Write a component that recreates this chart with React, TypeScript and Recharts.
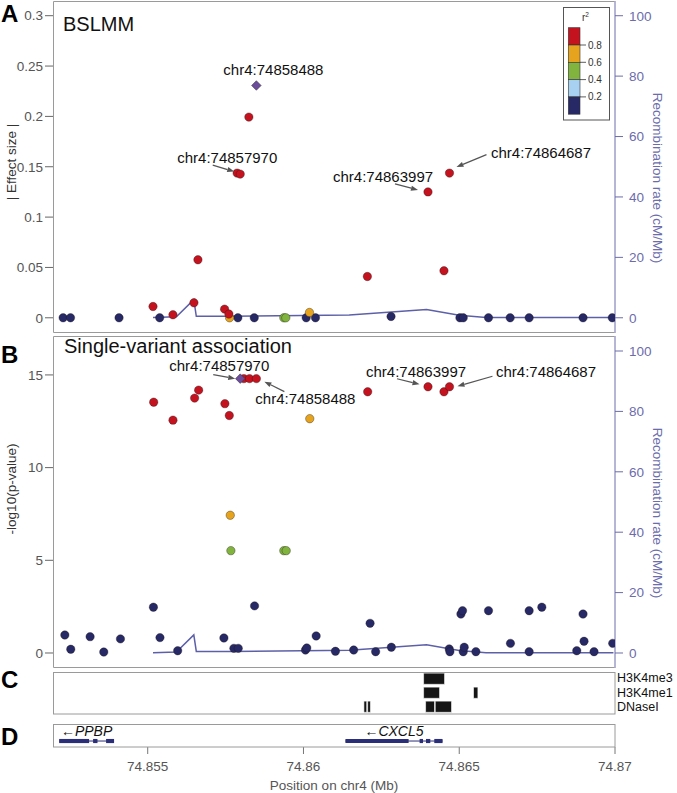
import React from "react";
import {
  ComposedChart,
  Line,
  ReferenceArea,
  ReferenceLine,
  Scatter,
  XAxis,
  YAxis,
} from "recharts";

const FONT = "'Liberation Sans', Arial, Helvetica, sans-serif";
const W = 677;
const H = 793;

// shared x range (Mb)
const X_DOMAIN: [number, number] = [74.85196, 74.87];
const X_TICKS = [74.855, 74.86, 74.865, 74.87];

const EFFECT_TICKS = [0, 0.05, 0.1, 0.15, 0.2, 0.25, 0.3];
const LOGP_TICKS = [0, 5, 10, 15];
const RECOMB_TICKS = [0, 20, 40, 60, 80, 100];
const LD_BREAKS = [0.8, 0.6, 0.4, 0.2];
const TRACKS = ["H3K4me3", "H3K4me1", "DNaseI"];

const COLORS = {
  red: "#c4121f",
  orange: "#e5a31e",
  green: "#80b43f",
  light: "#a8d0f0",
  navy: "#262965",
  lead: "#6b4d9b",
};
const LD_ORDER = [COLORS.red, COLORS.orange, COLORS.green, COLORS.light, COLORS.navy];
const RECOMB_COLOR = "#5d60a8";
const RECOMB_TEXT = "#6c6cab";
const GENE_COLOR = "#2b2e78";

// recombination rate (cM/Mb), same map for both panels
const RECOMB_POS = [74.85517, 74.85592, 74.85648, 74.85656, 74.85763, 74.86147, 74.86395, 74.865, 74.86586, 74.86995];
const RECOMB_RATE = [0.1, 0.3, 6, 0.5, 0.5, 0.9, 2.7, 0.8, 0.1, 0.1];

// panel A: BSLMM effect sizes, by r2 class
const A_RED = [
  [74.85517, 0.0112],
  [74.85581, 0.003],
  [74.856484, 0.0149],
  [74.856612, 0.0576],
  [74.857468, 0.0086],
  [74.857606, 0.0037],
  [74.85787, 0.1437],
  [74.85797, 0.1427],
  [74.858247, 0.1993],
  [74.862051, 0.041],
  [74.863997, 0.125],
  [74.86451, 0.0467],
  [74.864687, 0.1437],
];
const A_ORANGE = [
  [74.857628, 0],
  [74.860192, 0.0053],
];
const A_GREEN = [
  [74.859369, 0],
  [74.859433, 0],
];
const A_NAVY = [
  [74.852285, 0], [74.852522, 0], [74.85408, 0], [74.855385, 0], [74.857894, 0],
  [74.85842, 0], [74.860087, 0], [74.860385, 0], [74.862811, 0.0013], [74.865022, 0],
  [74.865128, 0], [74.865939, 0], [74.866635, 0], [74.867244, 0], [74.868974, 0], [74.869913, 0],
];
const A_LEAD = [[74.858488, 0.2307]];

// panel B: single-variant -log10(p)
const B_RED = [
  [74.855192, 13.53],
  [74.855811, 12.56],
  [74.856506, 13.75],
  [74.856635, 14.18],
  [74.857478, 13.45],
  [74.857619, 12.81],
  [74.858087, 14.8],
  [74.858269, 14.8],
  [74.858488, 14.8],
  [74.862061, 14.09],
  [74.863997, 14.36],
  [74.86451, 14.09],
  [74.864687, 14.36],
];
const B_ORANGE = [
  [74.85765, 7.43],
  [74.860202, 12.64],
];
const B_GREEN = [
  [74.85767, 5.52],
  [74.859369, 5.52],
  [74.859446, 5.52],
];
const B_NAVY = [
  [74.85234, 0.97], [74.85253, 0.2], [74.853151, 0.88], [74.85359, 0.05], [74.854125, 0.76],
  [74.855183, 2.47], [74.855394, 0.83], [74.855962, 0.12], [74.857446, 0.81], [74.857766, 0.25],
  [74.857907, 0.25], [74.85843, 2.54], [74.860064, 0.16], [74.860106, 0.27], [74.860407, 0.92],
  [74.861026, 0.09], [74.861612, 0.16], [74.862138, 1.6], [74.862317, 0.07], [74.862821, 0.31],
  [74.864679, 0.22], [74.8647, 0.07], [74.865054, 2.1], [74.865106, 2.28], [74.865128, 0.07],
  [74.86516, 0.31], [74.865535, 0.07], [74.865939, 2.28], [74.866644, 0.52], [74.867244, 2.28],
  [74.867244, 0.07], [74.867651, 2.47], [74.868772, 0.12], [74.868974, 2.1], [74.869006, 0.63],
  [74.869327, 0.07], [74.869926, 0.52],
];
const B_LEAD = [[74.85797, 14.8]];

// panel C: chromatin marks [start, end] per track
const H3K4ME3 = [[74.863856, 74.864529]];
const H3K4ME1 = [
  [74.863856, 74.864369],
  [74.865458, 74.865599],
];
const DNASE = [
  [74.86194, 74.86203],
  [74.86206, 74.86215],
  [74.86392, 74.864208],
  [74.86423, 74.864753],
];

// panel D: genes
const GENE_NAMES = ["PPBP", "CXCL5"];
const GENE_SPANS = [
  [74.852157, 74.85392],
  [74.861347, 74.864465],
];
const GENE_EXONS = [
  [
    [74.852157, 74.853119],
    [74.853247, 74.853388],
    [74.853664, 74.85392],
  ],
  [
    [74.861347, 74.863375],
    [74.863728, 74.863837],
    [74.863933, 74.864071],
    [74.864199, 74.864465],
  ],
];

const toPts = (rows: number[][]) => rows.map(([pos, val]) => ({ pos, val }));
const RECOMB = RECOMB_POS.map((pos, i) => ({ pos, rate: RECOMB_RATE[i] }));

// label callouts: offsets in px from the marked SNP
const A_CALLOUTS = [
  { pos: 74.858488, val: 0.2307, text: "chr4:74858488", tx: -33, ty: -10 },
  { pos: 74.85797, val: 0.1427, text: "chr4:74857970", tx: -63, ty: -11, arrow: [-27.5, -9, -6, -2.5] },
  { pos: 74.863997, val: 0.125, text: "chr4:74863997", tx: -95, ty: -10, arrow: [-33, -8, -10, -2] },
  { pos: 74.864687, val: 0.1437, text: "chr4:74864687", tx: 41.5, ty: -15, arrow: [37, -18.5, 7, -6] },
];
const B_CALLOUTS = [
  { pos: 74.85797, val: 14.8, text: "chr4:74857970", tx: -71, ty: -8, arrow: [-27, -4, -5, 0] },
  { pos: 74.858488, val: 14.8, text: "chr4:74858488", tx: -1, ty: 25, arrow: [28, 13, 8, 3] },
  { pos: 74.863997, val: 14.36, text: "chr4:74863997", tx: -62, ty: -10, arrow: [-31, -8, -8.5, -2.5] },
  { pos: 74.864687, val: 14.36, text: "chr4:74864687", tx: 46.5, ty: -10, arrow: [43, -10.5, 8, -0.5] },
];

function dotShape(color: string) {
  return (p: any) =>
    p.cx == null ? <g /> : (
      <circle cx={p.cx} cy={p.cy} r={4.2} fill={color} stroke="rgba(30,20,20,0.6)" strokeWidth={0.6} />
    );
}

function Diamond(p: any) {
  if (p.cx == null) return <g />;
  const s = 4.8;
  return (
    <polygon
      points={`${p.cx},${p.cy - s} ${p.cx + s},${p.cy} ${p.cx},${p.cy + s} ${p.cx - s},${p.cy}`}
      fill={COLORS.lead}
      stroke="#333"
      strokeWidth={0.5}
    />
  );
}

function Callout(p: any) {
  if (p.cx == null) return <g />;
  const c = p.payload;
  let arrow = null;
  if (c.arrow) {
    const [x1, y1, x2, y2] = c.arrow.map((v: number, i: number) => v + (i % 2 ? p.cy : p.cx));
    const a = Math.atan2(y2 - y1, x2 - x1);
    const len = 7;
    const hw = 2.6;
    const bx = x2 - len * Math.cos(a);
    const by = y2 - len * Math.sin(a);
    const pts = `${x2},${y2} ${bx - hw * Math.sin(a)},${by + hw * Math.cos(a)} ${bx + hw * Math.sin(a)},${by - hw * Math.cos(a)}`;
    arrow = (
      <g>
        <line x1={x1} y1={y1} x2={bx} y2={by} stroke="#555" strokeWidth={1.2} />
        <polygon points={pts} fill="#555" />
      </g>
    );
  }
  return (
    <g>
      {arrow}
      <text x={p.cx + c.tx} y={p.cy + c.ty} fontSize={15} fontFamily={FONT} fill="#111">
        {c.text}
      </text>
    </g>
  );
}

function GeneLabel(p: any) {
  if (p.cx == null) return <g />;
  return (
    <text x={p.cx} y={p.cy} textAnchor="middle" fontSize={14} fontStyle="italic" fontFamily={FONT} fill="#111">
      {"\u2190" + p.payload.name}
    </text>
  );
}

const Nothing = () => <g />;

const tickFont = { fontSize: 13.5, fontFamily: FONT };

function AssocPanel({
  top,
  height,
  yDomain,
  yTicks,
  rDomain,
  red,
  orange,
  green,
  navy,
  lead,
  callouts,
}: {
  top: number;
  height: number;
  yDomain: [number, number];
  yTicks: number[];
  rDomain: [number, number];
  red: number[][];
  orange: number[][];
  green: number[][];
  navy: number[][];
  lead: number[][];
  callouts: any[];
}) {
  const groups = [
    { key: "navy", rows: navy, color: COLORS.navy },
    { key: "green", rows: green, color: COLORS.green },
    { key: "orange", rows: orange, color: COLORS.orange },
    { key: "red", rows: red, color: COLORS.red },
  ];
  return (
    <div style={{ position: "absolute", left: 0, top }}>
      <ComposedChart width={W} height={height} margin={{ top: 0, right: 0, bottom: 0, left: 0 }}>
        <XAxis type="number" dataKey="pos" domain={X_DOMAIN} allowDataOverflow hide />
        <YAxis
          yAxisId="l"
          type="number"
          dataKey="val"
          domain={yDomain}
          ticks={yTicks}
          interval={0}
          allowDataOverflow
          width={53}
          axisLine={false}
          tickSize={8}
          tickMargin={2}
          tickLine={{ stroke: "#666" }}
          tick={{ ...tickFont, fill: "#555" }}
        />
        <YAxis
          yAxisId="r"
          orientation="right"
          type="number"
          domain={rDomain}
          ticks={RECOMB_TICKS}
          interval={0}
          allowDataOverflow
          width={62}
          axisLine={{ stroke: RECOMB_TEXT }}
          tickLine={{ stroke: RECOMB_TEXT }}
          tickSize={8}
          tickMargin={6}
          tick={{ ...tickFont, fill: RECOMB_TEXT }}
        />
        <Line
          yAxisId="r"
          data={RECOMB}
          dataKey="rate"
          type="linear"
          stroke={RECOMB_COLOR}
          strokeWidth={1.5}
          dot={false}
          isAnimationActive={false}
        />
        {groups.map((g) => (
          <Scatter
            key={g.key}
            yAxisId="l"
            data={toPts(g.rows)}
            fill={g.color}
            shape={dotShape(g.color)}
            isAnimationActive={false}
          />
        ))}
        <Scatter yAxisId="l" data={toPts(lead)} shape={Diamond} isAnimationActive={false} />
        <Scatter yAxisId="l" data={callouts} shape={Callout} isAnimationActive={false} />
      </ComposedChart>
    </div>
  );
}

function MarksPanel() {
  const tracks = [H3K4ME3, H3K4ME1, DNASE];
  // one invisible anchor per block keeps the axes fed with data
  const anchors = tracks.flatMap((blocks, row) =>
    blocks.map(([s, e]) => ({ pos: (s + e) / 2, val: row + 0.5 }))
  );
  return (
    <div style={{ position: "absolute", left: 0, top: 672 }}>
      <ComposedChart width={W} height={42} margin={{ top: 0, right: 0, bottom: 0, left: 53 }}>
        <XAxis type="number" dataKey="pos" domain={X_DOMAIN} allowDataOverflow hide />
        <YAxis
          orientation="right"
          type="number"
          dataKey="val"
          domain={[0, 3]}
          allowDataOverflow
          reversed
          ticks={[0.43, 1.46, 2.5]}
          interval={0}
          width={62}
          axisLine={false}
          tickLine={false}
          tickSize={0}
          tickMargin={2}
          tickFormatter={(v: number) => TRACKS[Math.floor(v)]}
          tick={{ fontSize: 12.5, fontFamily: FONT, fill: "#111" }}
        />
        <Scatter data={anchors} shape={Nothing} isAnimationActive={false} />
        {tracks.map((blocks, row) =>
          blocks.map(([s, e], j) => (
            <ReferenceArea
              key={`${row}-${j}`}
              x1={s}
              x2={e}
              y1={row + 0.08}
              y2={row + 0.88}
              fill="#151515"
              fillOpacity={1}
              stroke="#fff"
              strokeWidth={0.6}
              ifOverflow="visible"
            />
          ))
        )}
      </ComposedChart>
    </div>
  );
}

function GenesPanel() {
  const labels = GENE_NAMES.map((name, i) => ({
    name,
    pos: (GENE_SPANS[i][0] + GENE_SPANS[i][1]) / 2,
    val: 0.48,
  }));
  return (
    <div style={{ position: "absolute", left: 0, top: 724 }}>
      <ComposedChart width={W} height={69} margin={{ top: 0, right: 62, bottom: 0, left: 53 }}>
        <XAxis
          type="number"
          dataKey="pos"
          domain={X_DOMAIN}
          ticks={X_TICKS}
          interval={0}
          allowDataOverflow
          height={46}
          axisLine={false}
          tickSize={7}
          tickMargin={7}
          tickLine={{ stroke: "#777" }}
          tick={{ ...tickFont, fill: "#555" }}
          label={{
            value: "Position on chr4 (Mb)",
            position: "insideBottom",
            offset: 3,
            fill: "#555",
            fontSize: 13.5,
            fontFamily: FONT,
          }}
        />
        <YAxis type="number" dataKey="val" domain={[0, 1]} allowDataOverflow hide />
        {GENE_SPANS.map(([s, e], i) => (
          <ReferenceLine
            key={`intron-${i}`}
            segment={[
              { x: s, y: 0.26 },
              { x: e, y: 0.26 },
            ]}
            stroke={GENE_COLOR}
            strokeWidth={1}
          />
        ))}
        {GENE_EXONS.map((exons, i) =>
          exons.map(([s, e], j) => (
            <ReferenceArea
              key={`exon-${i}-${j}`}
              x1={s}
              x2={e}
              y1={0.17}
              y2={0.35}
              fill={GENE_COLOR}
              fillOpacity={1}
              stroke="none"
            />
          ))
        )}
        <Scatter data={labels} shape={GeneLabel} isAnimationActive={false} />
      </ComposedChart>
    </div>
  );
}

function Overlay() {
  const frame = "#9a9a9a";
  const letter = { fontSize: 24, fontWeight: 700, fontFamily: FONT, fill: "#000" };
  const rowH = 17.3;
  const legTop = 27.7;
  return (
    <svg width={W} height={H} style={{ position: "absolute", left: 0, top: 0, pointerEvents: "none" }}>
      {/* frames */}
      <path d="M614.5,1.5 H53.5 V332.5 H614.5" fill="none" stroke={frame} />
      <path d="M614.5,336.5 H53.5 V667.5 H614.5" fill="none" stroke={frame} />
      <rect x={53.5} y={672.5} width={561.5} height={41.5} fill="none" stroke={frame} />
      <rect x={53.5} y={724.5} width={561.5} height={22.5} fill="none" stroke={frame} />

      {/* panel letters */}
      <text x={1} y={22} {...letter}>A</text>
      <text x={1} y={363} {...letter}>B</text>
      <text x={1} y={688} {...letter}>C</text>
      <text x={1} y={745} {...letter}>D</text>

      {/* panel titles */}
      <text x={63} y={31} fontSize={20} fontFamily={FONT} fill="#111">BSLMM</text>
      <text x={64} y={352.5} fontSize={20} fontFamily={FONT} fill="#111">Single-variant association</text>

      {/* axis titles */}
      <text
        x={11}
        y={162}
        transform="rotate(-90 11 162)"
        textAnchor="middle"
        dominantBaseline="central"
        fontSize={13.5}
        fontFamily={FONT}
        fill="#333"
      >
        | Effect size |
      </text>
      <text
        x={11}
        y={489}
        transform="rotate(-90 11 489)"
        textAnchor="middle"
        dominantBaseline="central"
        fontSize={13.5}
        fontFamily={FONT}
        fill="#333"
      >
        -log10(p-value)
      </text>
      {[178, 513].map((cy) => (
        <text
          key={cy}
          x={657}
          y={cy}
          transform={`rotate(90 657 ${cy})`}
          textAnchor="middle"
          dominantBaseline="central"
          fontSize={13.5}
          fontFamily={FONT}
          fill={RECOMB_TEXT}
        >
          Recombination rate (cM/Mb)
        </text>
      ))}

      {/* r2 key */}
      <rect x={563.5} y={7.5} width={46} height={112.5} fill="#fff" stroke="#555" />
      <text x={582} y={21} fontSize={10} fontFamily={FONT} fill="#333">
        r<tspan dy={-4} fontSize={6.5}>2</tspan>
      </text>
      {LD_ORDER.map((c, i) => (
        <rect
          key={c}
          x={568.3}
          y={legTop + i * rowH}
          width={11.7}
          height={rowH}
          fill={c}
          stroke="#333"
          strokeWidth={0.6}
        />
      ))}
      {LD_BREAKS.map((b, i) => {
        const y = legTop + (i + 1) * rowH;
        return (
          <g key={b}>
            <line x1={580} y1={y} x2={586} y2={y} stroke="#333" strokeWidth={0.8} />
            <text x={588} y={y + 3.5} fontSize={10} fontFamily={FONT} fill="#333">
              {b}
            </text>
          </g>
        );
      })}
    </svg>
  );
}

export default function App() {
  return (
    <div
      style={{
        position: "absolute",
        left: 0,
        top: 0,
        width: W,
        height: H,
        background: "#fff",
        overflow: "hidden",
        fontFamily: FONT,
      }}
    >
      <AssocPanel
        top={1}
        height={332}
        yDomain={[-0.0151, 0.3146]}
        yTicks={EFFECT_TICKS}
        rDomain={[-5.04, 104.87]}
        red={A_RED}
        orange={A_ORANGE}
        green={A_GREEN}
        navy={A_NAVY}
        lead={A_LEAD}
        callouts={A_CALLOUTS}
      />
      <AssocPanel
        top={336}
        height={332}
        yDomain={[-0.81, 17.1]}
        yTicks={LOGP_TICKS}
        rDomain={[-4.97, 104.97]}
        red={B_RED}
        orange={B_ORANGE}
        green={B_GREEN}
        navy={B_NAVY}
        lead={B_LEAD}
        callouts={B_CALLOUTS}
      />
      <MarksPanel />
      <GenesPanel />
      <Overlay />
    </div>
  );
}
